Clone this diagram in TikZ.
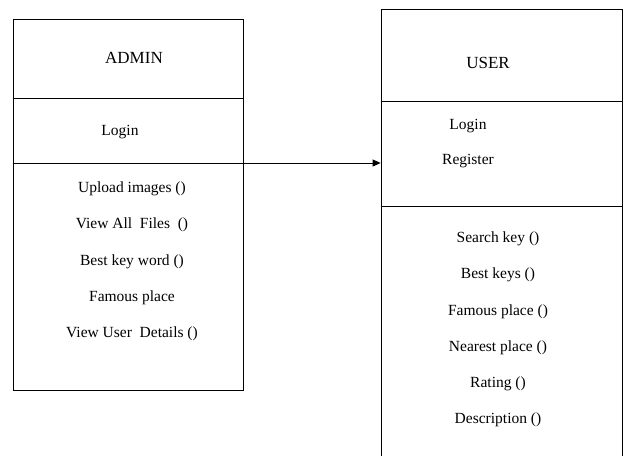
\documentclass[tikz,border=0pt]{standalone}
\usepackage{fontspec}
\setmainfont{Liberation Serif}
\usetikzlibrary{positioning, arrows.meta}
\tikzset{>={Triangle[length=8pt, width=7pt]}, node distance=36.2pt,
	every node/.style={font=\rmfamily\fontsize{15.5}{18}\selectfont},
	box/.style={draw, rectangle, line width=0.8pt, inner sep=0pt},
	title/.style={font=\rmfamily\fontsize{17}{20}\selectfont}}

\begin{document}
\begin{tikzpicture}[x=1pt, y=-1pt, line width=0.8pt]
	\clip (0,0) rectangle (626,455);
	% the two classes
	\node[box, minimum width=230pt, minimum height=371pt] (Admin) at (128,204.5) {};
	\node[box, minimum width=241pt, minimum height=470pt] (User) at (501.5,244) {};
	\draw (Admin.west |- 0,98) -- (Admin.east |- 0,98);
	\draw (Admin.west |- 0,163) -- (Admin.east |- 0,163);
	\draw (User.west |- 0,101) -- (User.east |- 0,101);
	\draw (User.west |- 0,206) -- (User.east |- 0,206);
	\draw[->] (Admin.east |- 0,163) -- (User.west |- 0,163);
	% admin
	\node[title] (AdminName) at (134,58) {ADMIN};
	\node (AdminLogin) at (120,132) {Login};
	\node (Upload) at (132,189) {Upload images ()};
	\node[below of=Upload] (ViewFiles) {View All~ Files~ ()};
	\node[below of=ViewFiles] (BestWord) {Best key word ()};
	\node[below of=BestWord] (AdminPlace) {Famous place};
	\node[below of=AdminPlace] (UserDetails) {View User~ Details ()};
	% user
	\node[title] (UserName) at (488,63) {USER};
	\node (UserLogin) at (468,126) {Login};
	\node[below of=UserLogin, node distance=35pt] (Register) {Register};
	\node (SearchKey) at (498,239) {Search key ()};
	\node[below of=SearchKey] (BestKeys) {Best keys ()};
	\node[below of=BestKeys] (UserPlace) {Famous place ()};
	\node[below of=UserPlace] (Nearest) {Nearest place ()};
	\node[below of=Nearest] (Rating) {Rating ()};
	\node[below of=Rating] (Description) {Description ()};
\end{tikzpicture}
\end{document}
